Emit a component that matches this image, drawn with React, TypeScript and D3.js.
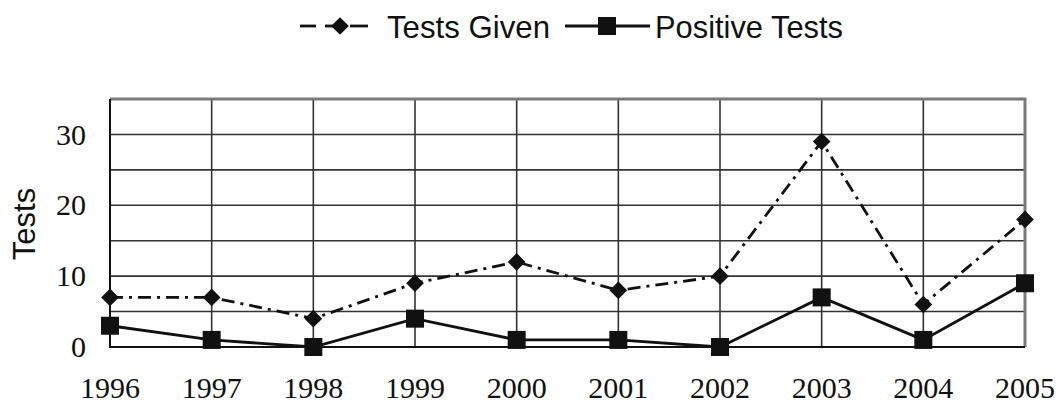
import React, { useEffect, useRef } from "react";
import * as d3 from "d3";

const years = ["1996", "1997", "1998", "1999", "2000", "2001", "2002", "2003", "2004", "2005"];
const testsGiven = [7, 7, 4, 9, 12, 8, 10, 29, 6, 18];
const positiveTests = [3, 1, 0, 4, 1, 1, 0, 7, 1, 9];
const yTicks = [0, 10, 20, 30];
const gridValues = [5, 10, 15, 20, 25, 30];

const App = () => {
	const ref = useRef<SVGSVGElement | null>(null);

	useEffect(() => {
		const width = 1057;
		const height = 406;
		const margin = { top: 99, right: 32, bottom: 59, left: 110 };
		const serif = "'Liberation Serif', 'DejaVu Serif', serif";
		const sans = "'Liberation Sans', Arial, sans-serif";

		const svg = d3.select(ref.current);
		svg.selectAll("*").remove();
		svg.attr("width", width).attr("height", height);

		const x = d3
			.scalePoint()
			.domain(years)
			.range([margin.left, width - margin.right]);

		const y = d3
			.scaleLinear()
			.domain([0, 35])
			.range([height - margin.bottom, margin.top]);

		const x0 = margin.left;
		const x1 = width - margin.right;

		// grid
		const grid = svg.append("g").attr("stroke", "#333").attr("stroke-width", 1.6);
		grid
			.selectAll("line.h")
			.data(gridValues)
			.join("line")
			.attr("x1", x0)
			.attr("x2", x1)
			.attr("y1", (d) => y(d))
			.attr("y2", (d) => y(d));
		grid
			.selectAll("line.v")
			.data(years.slice(1, -1))
			.join("line")
			.attr("x1", (d) => x(d)!)
			.attr("x2", (d) => x(d)!)
			.attr("y1", y(0))
			.attr("y2", y(35));

		// frame: grey top/right, black left/bottom
		svg
			.append("path")
			.attr("d", `M${x0},${y(35)}H${x1}V${y(0)}`)
			.attr("fill", "none")
			.attr("stroke", "#7a7a7a")
			.attr("stroke-width", 3);
		svg
			.append("path")
			.attr("d", `M${x0},${y(35)}V${y(0)}H${x1}`)
			.attr("fill", "none")
			.attr("stroke", "#111")
			.attr("stroke-width", 2);

		// y tick labels
		svg
			.append("g")
			.selectAll("text")
			.data(yTicks)
			.join("text")
			.attr("x", 86)
			.attr("y", (d) => y(d))
			.attr("dy", "0.34em")
			.attr("text-anchor", "end")
			.attr("font-family", serif)
			.attr("font-size", 30)
			.attr("fill", "#111")
			.text((d) => d);

		// x tick labels
		svg
			.append("g")
			.selectAll("text")
			.data(years)
			.join("text")
			.attr("x", (d) => x(d)!)
			.attr("y", 398)
			.attr("text-anchor", "middle")
			.attr("font-family", serif)
			.attr("font-size", 30)
			.attr("fill", "#111")
			.text((d) => d);

		// y axis title
		svg
			.append("text")
			.attr("transform", `translate(35,224) rotate(-90)`)
			.attr("text-anchor", "middle")
			.attr("font-family", sans)
			.attr("font-size", 31)
			.attr("fill", "#111")
			.text("Tests");

		const line = d3
			.line<number>()
			.x((d, i) => x(years[i])!)
			.y((d) => y(d));

		// Tests Given: dash-dot line with diamonds
		svg
			.append("path")
			.datum(testsGiven)
			.attr("fill", "none")
			.attr("stroke", "#111")
			.attr("stroke-width", 2.8)
			.attr("stroke-dasharray", "13,6,3,6")
			.attr("d", line);

		const diamond = d3.symbol().type(d3.symbolDiamond2).size(200);
		svg
			.append("g")
			.selectAll("path")
			.data(testsGiven)
			.join("path")
			.attr("transform", (d, i) => `translate(${x(years[i])},${y(d)})`)
			.attr("d", diamond)
			.attr("fill", "#111");

		// Positive Tests: solid line with squares
		svg
			.append("path")
			.datum(positiveTests)
			.attr("fill", "none")
			.attr("stroke", "#111")
			.attr("stroke-width", 2.8)
			.attr("d", line);

		svg
			.append("g")
			.selectAll("rect")
			.data(positiveTests)
			.join("rect")
			.attr("x", (d, i) => x(years[i])! - 9)
			.attr("y", (d) => y(d) - 9)
			.attr("width", 18)
			.attr("height", 18)
			.attr("fill", "#111");

		// legend
		const legend = svg.append("g");
		const ly = 26;
		[
			[300, 316],
			[325, 334],
			[350, 368],
		].forEach(([a, b]) => {
			legend
				.append("line")
				.attr("x1", a)
				.attr("x2", b)
				.attr("y1", ly)
				.attr("y2", ly)
				.attr("stroke", "#111")
				.attr("stroke-width", 2.8);
		});
		legend
			.append("path")
			.attr("transform", `translate(340,${ly})`)
			.attr("d", diamond)
			.attr("fill", "#111");
		legend
			.append("text")
			.attr("x", 387)
			.attr("y", ly + 12)
			.attr("font-family", sans)
			.attr("font-size", 32)
			.attr("textLength", 163)
			.attr("lengthAdjust", "spacingAndGlyphs")
			.attr("fill", "#111")
			.text("Tests Given");
		legend
			.append("line")
			.attr("x1", 565)
			.attr("x2", 650)
			.attr("y1", ly)
			.attr("y2", ly)
			.attr("stroke", "#111")
			.attr("stroke-width", 2.8);
		legend
			.append("rect")
			.attr("x", 598)
			.attr("y", ly - 9)
			.attr("width", 18)
			.attr("height", 18)
			.attr("fill", "#111");
		legend
			.append("text")
			.attr("x", 655)
			.attr("y", ly + 12)
			.attr("font-family", sans)
			.attr("font-size", 32)
			.attr("textLength", 188)
			.attr("lengthAdjust", "spacingAndGlyphs")
			.attr("fill", "#111")
			.text("Positive Tests");
	}, []);

	return (
		<svg
			ref={ref}
			style={{ position: "absolute", left: 0, top: 0, background: "#fff" }}
		/>
	);
};

export default App;
